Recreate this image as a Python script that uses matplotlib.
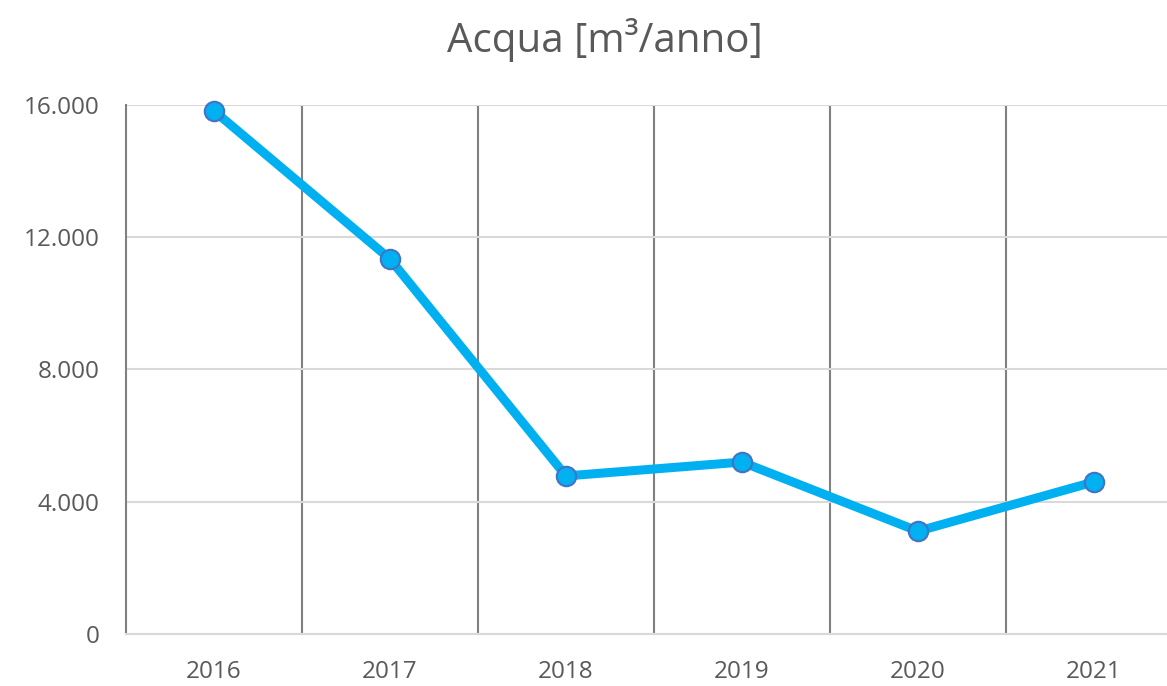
import matplotlib
matplotlib.use("Agg")
import matplotlib.pyplot as plt
from matplotlib.ticker import FixedLocator, FuncFormatter

anni = ["2016", "2017", "2018", "2019", "2020", "2021"]
acqua = [15820, 11340, 4780, 5200, 3110, 4600]
yticks = [0, 4000, 8000, 12000, 16000]

plt.rcParams["font.family"] = ["Open Sans", "DejaVu Sans"]
testo = "#595959"

fig = plt.figure(figsize=(11.67, 6.86), dpi=100)
ax = fig.add_axes([0.108, 0.0758, 0.892, 0.7712])

x = list(range(len(anni)))
ax.plot(x, acqua, color="#00B0F0", lw=6.5, marker="o", ms=14,
        mfc="#00B0F0", mec="#4472C4", mew=1.5, zorder=5, clip_on=False)

ax.set_xlim(-0.5, 5.415)
ax.set_ylim(0, 16000)
ax.set_xticks(x)
ax.set_xticklabels(anni)
ax.set_yticks(yticks)
ax.yaxis.set_major_formatter(FuncFormatter(lambda v, p: f"{int(v):,}".replace(",", ".")))
ax.xaxis.set_minor_locator(FixedLocator([i + 0.5 for i in range(len(anni) - 1)]))

ax.grid(axis="y", which="major", color="#D9D9D9", lw=1.5)
ax.grid(axis="x", which="minor", color="#808080", lw=1.5)
ax.grid(axis="x", which="major", visible=False)
ax.set_axisbelow(True)

ax.tick_params(axis="both", which="both", length=0, labelsize=17.5, labelcolor=testo)
ax.tick_params(axis="x", pad=19)
ax.tick_params(axis="y", pad=19)

for s in ["top", "right"]:
    ax.spines[s].set_visible(False)
ax.spines["left"].set_color("#808080")
ax.spines["left"].set_linewidth(1.5)
ax.spines["bottom"].set_color("#D9D9D9")
ax.spines["bottom"].set_linewidth(1.5)

fig.text(0.518, 0.942, "Acqua [m³/anno]", ha="center", va="center",
         fontsize=29, color=testo)

fig.savefig("out.png", dpi=100)
